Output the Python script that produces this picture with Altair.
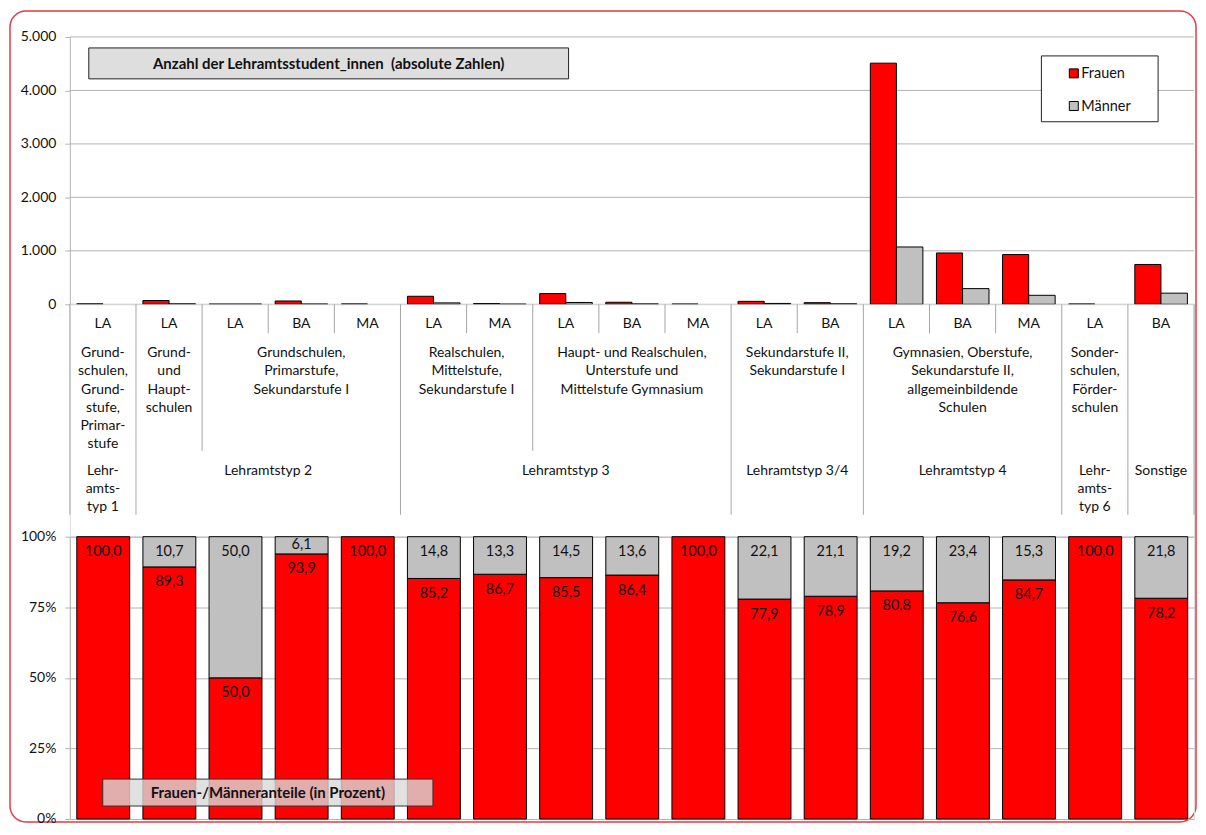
import altair as alt
import pandas as pd

# ---------------- data ----------------
categories = list(range(17))
abschluss = ["LA", "LA", "LA", "BA", "MA", "LA", "MA", "LA", "BA", "MA",
             "LA", "BA", "LA", "BA", "MA", "LA", "BA"]
frauen_abs = [8, 70, 3, 62, 6, 150, 13, 200, 38, 4, 55, 30, 4510, 960, 930, 5, 745]
maenner_abs = [0, 8, 3, 4, 0, 26, 2, 34, 6, 0, 16, 8, 1072, 293, 168, 0, 208]
frauen_pct = [100.0, 89.3, 50.0, 93.9, 100.0, 85.2, 86.7, 85.5, 86.4, 100.0,
              77.9, 78.9, 80.8, 76.6, 84.7, 100.0, 78.2]
maenner_pct = [0.0, 10.7, 50.0, 6.1, 0.0, 14.8, 13.3, 14.5, 13.6, 0.0,
               22.1, 21.1, 19.2, 23.4, 15.3, 0.0, 21.8]

schulform_labels = [
    "Grund-\nschulen,\nGrund-\nstufe,\nPrimar-\nstufe",
    "Grund-\nund\nHaupt-\nschulen",
    "Grundschulen,\nPrimarstufe,\nSekundarstufe I",
    "Realschulen,\nMittelstufe,\nSekundarstufe I",
    "Haupt- und Realschulen,\nUnterstufe und\nMittelstufe Gymnasium",
    "Sekundarstufe II,\nSekundarstufe I",
    "Gymnasien, Oberstufe,\nSekundarstufe II,\nallgemeinbildende\nSchulen",
    "Sonder-\nschulen,\nFörder-\nschulen",
]
schulform_start = [0, 1, 2, 5, 7, 10, 12, 15]
schulform_end = [1, 2, 5, 7, 10, 12, 15, 16]

typ_labels = ["Lehr-\namts-\ntyp 1", "Lehramtstyp 2", "Lehramtstyp 3",
              "Lehramtstyp 3/4", "Lehramtstyp 4", "Lehr-\namts-\ntyp 6", "Sonstige"]
typ_start = [0, 1, 5, 10, 12, 15, 16]
typ_end = [1, 5, 10, 12, 15, 16, 17]

trenn_pos = list(range(18))
trenn_tiefe = [3, 3, 2, 1, 1, 3, 1, 2, 1, 1, 3, 1, 3, 1, 1, 3, 3, 3]

ticks_abs = [0, 1000, 2000, 3000, 4000, 5000]
ticks_pct = [0, 25, 50, 75, 100]
series = ["Frauen", "Männer"]
titel_oben = "Anzahl der Lehramtsstudent_innen\u00a0 (absolute Zahlen)"
titel_unten = "Frauen-/Männeranteile (in Prozent)"

# ---------------- styles ----------------
FONT = "Lato"
RED = "#ff0000"
GREY = "#c0c0c0"
GRID = "#b3b3b3"
W = 1127
H_TOP = 268
H_MID = 233
H_BOT = 283

XS = alt.Scale(domain=[0, 17], nice=False, zero=False)
YA = alt.Scale(domain=[0, 5000], nice=False)
YP = alt.Scale(domain=[0, 100], nice=False)
COLOR = alt.Scale(domain=series, range=[RED, GREY])

axis_abs = alt.Axis(values=ticks_abs,
                    labelExpr="replace(format(datum.value, ','), ',', '.')",
                    title=None, grid=False, tickSize=5, tickColor=GRID,
                    domainColor=GRID, labelPadding=9, labelFontSize=14,
                    labelColor="#111", labelFont=FONT, zindex=1)
axis_pct = alt.Axis(values=ticks_pct, labelExpr="datum.value + '%'",
                    title=None, grid=True, gridColor=GRID, tickSize=5,
                    tickColor=GRID, domainColor=GRID, labelPadding=9,
                    labelFontSize=14, labelColor="#111", labelFont=FONT)

one = pd.DataFrame({"a": [0]})

# ---------------- top panel ----------------
frame = alt.Chart(one).mark_rect(fill="white", stroke="#e23b44", strokeWidth=1.5,
                                 cornerRadius=16).encode(
    x=alt.value(-60), x2=alt.value(1129), y=alt.value(-26), y2=alt.value(787))

grid_top = alt.Chart(pd.DataFrame({"v": ticks_abs})).mark_rule(
    color=GRID, strokeWidth=1).encode(
    y=alt.Y("v:Q", scale=YA, axis=axis_abs), x=alt.value(0), x2=alt.value(W))

abs_df = pd.DataFrame({"i": categories, "Frauen": frauen_abs, "Männer": maenner_abs})
abs_long = abs_df.melt(id_vars="i", var_name="Geschlecht", value_name="Anzahl")
abs_long = abs_long[abs_long["Anzahl"] > 0]

bars_top = alt.Chart(abs_long).transform_calculate(
    x0="datum.i + (datum.Geschlecht == 'Frauen' ? 0.105 : 0.5)",
    x1="datum.i + (datum.Geschlecht == 'Frauen' ? 0.5 : 0.9)",
).mark_rect(stroke="black", strokeWidth=1).encode(
    x=alt.X("x0:Q", scale=XS, axis=None), x2="x1:Q",
    y=alt.Y("Anzahl:Q", scale=YA, axis=axis_abs), y2=alt.datum(0),
    color=alt.Color("Geschlecht:N", scale=COLOR, legend=None))

title_box = alt.Chart(one).mark_rect(fill="#dedede", stroke="#222", strokeWidth=1).encode(
    x=alt.value(19), x2=alt.value(500), y=alt.value(11), y2=alt.value(42))
title_txt = alt.Chart(one).mark_text(
    text=titel_oben, font=FONT, fontSize=15, fontWeight="bold", align="center",
    baseline="middle", color="#111").encode(x=alt.value(259.5), y=alt.value(27))

leg_box = alt.Chart(one).mark_rect(fill="white", stroke="#222", strokeWidth=1).encode(
    x=alt.value(974), x2=alt.value(1091), y=alt.value(19), y2=alt.value(85))
leg_items = []
for j, s in enumerate(series):
    d = pd.DataFrame({"Geschlecht": [s]})
    yc = 36.5 + 32.7 * j
    leg_items.append(alt.Chart(d).mark_rect(stroke="black", strokeWidth=1).encode(
        x=alt.value(1002), x2=alt.value(1011), y=alt.value(yc - 4.5), y2=alt.value(yc + 4.5),
        color=alt.Color("Geschlecht:N", scale=COLOR, legend=None)))
    leg_items.append(alt.Chart(d).mark_text(align="left", baseline="middle", font=FONT,
                                            fontSize=14.5, color="#111").encode(
        x=alt.value(1014), y=alt.value(yc + 1), text="Geschlecht:N"))

top = alt.layer(frame, grid_top, bars_top, title_box, title_txt, leg_box,
                *leg_items).properties(width=W, height=H_TOP)

# ---------------- middle panel (category table) ----------------
sep_df = pd.DataFrame({"k": trenn_pos, "tiefe": trenn_tiefe})
YSEP = alt.Scale(domain=[0, 1, 2, 3], range=[0, 29, 147, 211])
seps = alt.Chart(sep_df).transform_calculate(null0="0").mark_rule(
    color="#a6a6a6", strokeWidth=1).encode(
    x=alt.X("k:Q", scale=XS, axis=None),
    y=alt.Y("null0:Q", scale=YSEP, axis=None), y2="tiefe:Q")

row1 = alt.Chart(pd.DataFrame({"i": categories, "abschluss": abschluss})).transform_calculate(
    xm="datum.i + 0.5").mark_text(font=FONT, fontSize=14, baseline="middle",
                                  color="#111").encode(
    x=alt.X("xm:Q", scale=XS, axis=None), y=alt.value(20), text="abschluss:N")

row2 = alt.Chart(pd.DataFrame({"label": schulform_labels, "s": schulform_start,
                               "e": schulform_end})).transform_calculate(
    xm="(datum.s + datum.e) / 2").mark_text(
    font=FONT, fontSize=14, baseline="top", lineBreak="\n", lineHeight=18.3,
    color="#111").encode(
    x=alt.X("xm:Q", scale=XS, axis=None), y=alt.value(42), text="label:N")

row3 = alt.Chart(pd.DataFrame({"label": typ_labels, "s": typ_start,
                               "e": typ_end})).transform_calculate(
    xm="(datum.s + datum.e) / 2").mark_text(
    font=FONT, fontSize=14, baseline="top", lineBreak="\n", lineHeight=18,
    color="#111").encode(
    x=alt.X("xm:Q", scale=XS, axis=None), y=alt.value(160), text="label:N")

mid = alt.layer(seps, row1, row2, row3).properties(width=W, height=H_MID)

# ---------------- bottom panel (percent) ----------------
pct_df = pd.DataFrame({"i": categories, "frauen": frauen_pct, "maenner": maenner_pct})
pct_df["f_txt"] = [f"{v:.1f}".replace(".", ",") for v in frauen_pct]
pct_df["m_txt"] = [f"{v:.1f}".replace(".", ",") for v in maenner_pct]

base = alt.Chart(pct_df).transform_calculate(
    x0="datum.i + 0.105", x1="datum.i + 0.905", xm="datum.i + 0.505")

red_bars = base.mark_rect(fill=RED, stroke="black", strokeWidth=1).encode(
    x=alt.X("x0:Q", scale=XS, axis=None), x2="x1:Q",
    y=alt.Y("frauen:Q", scale=YP, axis=axis_pct), y2=alt.datum(0))
grey_bars = base.transform_filter("datum.maenner > 0").mark_rect(
    fill=GREY, stroke="black", strokeWidth=1).encode(
    x=alt.X("x0:Q", scale=XS, axis=None), x2="x1:Q",
    y=alt.Y("frauen:Q", scale=YP, axis=axis_pct), y2=alt.datum(100))

red_lbl = base.transform_calculate(ly="datum.frauen - 5.5").mark_text(
    font=FONT, fontSize=14.5, baseline="middle", color="#111").encode(
    x=alt.X("xm:Q", scale=XS, axis=None),
    y=alt.Y("ly:Q", scale=YP, axis=axis_pct), text="f_txt:N")
grey_lbl = base.transform_filter("datum.maenner > 0").transform_calculate(
    ly="max(94.5, (datum.frauen + 100) / 2)").mark_text(
    font=FONT, fontSize=14.5, baseline="middle", color="#111").encode(
    x=alt.X("xm:Q", scale=XS, axis=None),
    y=alt.Y("ly:Q", scale=YP, axis=axis_pct), text="m_txt:N")

bot_box = alt.Chart(one).mark_rect(fill="#d9d9d9", fillOpacity=0.8, stroke="#333",
                                   strokeWidth=1).encode(
    x=alt.value(33), x2=alt.value(364), y=alt.value(243), y2=alt.value(270))
bot_txt = alt.Chart(one).mark_text(
    text=titel_unten, font=FONT, fontSize=15, fontWeight="bold", align="center",
    baseline="middle", color="#111").encode(x=alt.value(198.5), y=alt.value(256.5))

bot = alt.layer(red_bars, grey_bars, red_lbl, grey_lbl, bot_box, bot_txt).properties(
    width=W, height=H_BOT)

chart = alt.vconcat(top, mid, bot, spacing=0, bounds="flush").properties(
    padding=0, background="white").configure_view(strokeWidth=0).configure(font=FONT)

chart.save("out.html", embed_options={"renderer": "svg", "actions": False})
